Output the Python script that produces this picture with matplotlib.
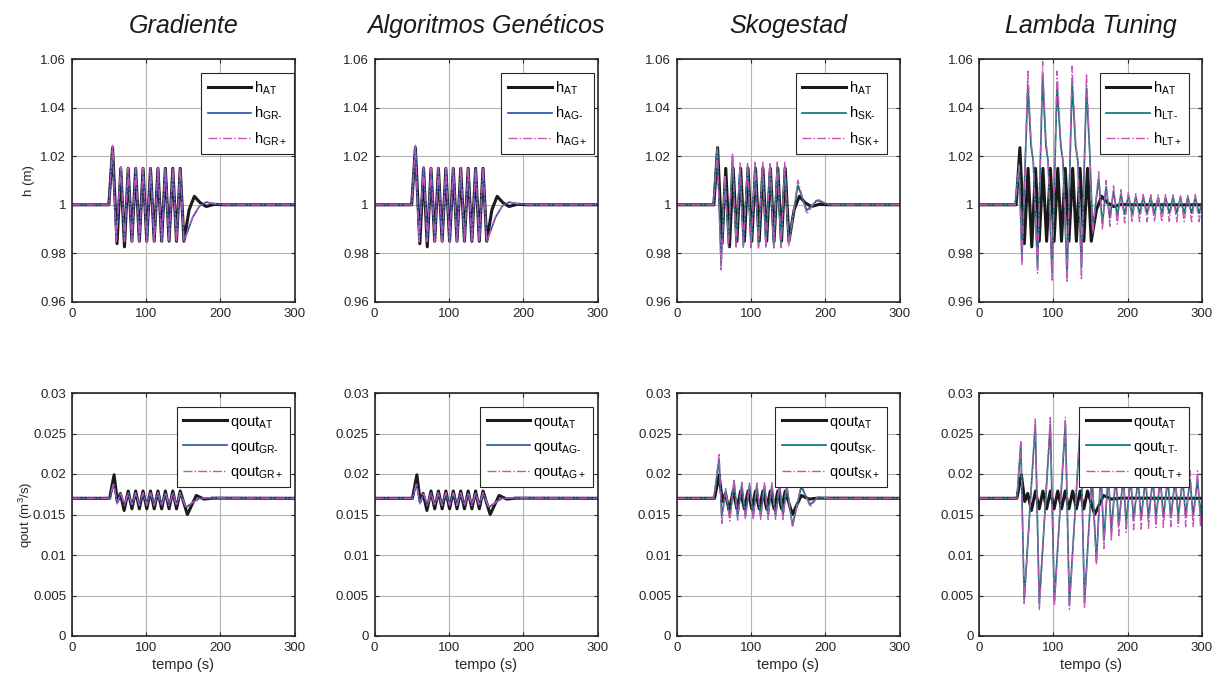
import matplotlib
matplotlib.use("Agg")
import matplotlib.pyplot as plt
from matplotlib import ticker

plt.rcParams['font.family'] = ['Liberation Sans', 'DejaVu Sans']
plt.rcParams['mathtext.fontset'] = 'custom'
plt.rcParams['mathtext.rm'] = 'Liberation Sans'
plt.rcParams['mathtext.it'] = 'Liberation Sans:italic'
plt.rcParams['mathtext.default'] = 'regular'

# ---------------- datos ----------------
titles = ["Gradiente", "Algoritmos Genéticos", "Skogestad", "Lambda Tuning"]
tags = ["GR", "AG", "SK", "LT"]

# nivel h, caso AT (igual en los cuatro paneles)
at_h_t = [0, 50, 55, 61, 66, 71, 76, 81, 86, 91, 96, 101, 106, 111, 116, 121,
          126, 131, 136, 141, 146, 151, 158, 165, 173, 181, 192, 205, 300]
at_h = [1.0, 1.0, 1.0235, 0.984, 1.015, 0.9827, 1.015, 0.985, 1.015, 0.985,
        1.015, 0.985, 1.015, 0.985, 1.015, 0.985, 1.015, 0.985, 1.015, 0.985,
        1.015, 0.985, 0.998, 1.0035, 1.0008, 0.9993, 1.0002, 1.0, 1.0]

# nivel h, Gradiente
gr_h_t = [0, 50, 55, 60, 66, 71, 76, 81, 86, 91, 96, 101, 106, 111, 116, 121,
          126, 131, 136, 141, 146, 151, 163, 172, 181, 195, 210, 300]
gr_h_minus = [1.0, 1.0, 1.024, 0.985, 1.0155, 0.985, 1.015, 0.985, 1.015, 0.985,
              1.015, 0.985, 1.015, 0.985, 1.015, 0.985, 1.015, 0.985, 1.015, 0.985,
              1.015, 0.985, 0.995, 0.9995, 1.0011, 1.0003, 1.0, 1.0]
gr_h_plus = [1.0, 1.0, 1.0245, 0.9848, 1.0157, 0.9848, 1.0152, 0.9848, 1.0152, 0.9848,
             1.0152, 0.9848, 1.0152, 0.9848, 1.0152, 0.9848, 1.0152, 0.9848, 1.0152, 0.9848,
             1.0152, 0.9848, 0.9952, 0.9996, 1.001, 1.0003, 1.0, 1.0]

# Algoritmos Geneticos: curvas practicamente identicas a las del Gradiente
ag_h_t = gr_h_t
ag_h_minus = gr_h_minus
ag_h_plus = gr_h_plus

# nivel h, Skogestad
sk_h_t = [0, 49.5, 54.7, 59.7, 65, 69.6, 75, 80, 85.3, 89.6, 95.4, 100, 105.6, 110,
          115.7, 120, 125.6, 130.6, 135.4, 140.4, 145.3, 150.7, 163, 175, 188.7, 205, 300]
sk_h_minus = [1.0, 1.0, 1.0237, 0.9759, 1.0114, 0.984, 1.020, 0.984, 1.0155, 0.983,
              1.016, 0.983, 1.016, 0.983, 1.016, 0.983, 1.016, 0.983, 1.016, 0.983,
              1.016, 0.984, 1.008, 0.9977, 1.0018, 1.0, 1.0]
sk_h_plus = [1.0, 1.0, 1.0228, 0.9732, 1.0122, 0.9828, 1.0208, 0.9826, 1.0172, 0.9822,
             1.0176, 0.9823, 1.0175, 0.9822, 1.0176, 0.9823, 1.0175, 0.9822, 1.0176, 0.9823,
             1.0175, 0.9828, 1.0102, 0.9962, 1.0024, 1.0, 1.0]

# nivel h, Lambda Tuning
lt_h_t = [0, 48.6, 54, 57.7, 65.8, 70, 73, 78.8, 85.6, 90, 93, 98.2, 105, 110, 113,
          118.5, 125.2, 130, 133, 137.8, 144.6, 149, 153,
          161, 166, 171, 176, 181, 186, 191, 196, 201, 206, 211, 216, 221, 226,
          231, 236, 241, 246, 251, 256, 261, 266, 271, 276, 281, 286, 291, 296, 300]
lt_h_minus = [1.0, 1.0, 1.0168, 0.978, 1.049, 1.024, 1.018, 0.974, 1.053, 1.024, 1.018,
              0.972, 1.049, 1.024, 1.018, 0.971, 1.050, 1.024, 1.018, 0.974, 1.048, 1.021, 0.990,
              1.0107, 0.9921, 1.0075, 0.9945, 1.0055, 0.9955, 1.0045, 0.996, 1.004, 0.9962,
              1.0035, 0.9963, 1.0033, 0.9964, 1.0032, 0.9964, 1.0031, 0.9965, 1.0031, 0.9964,
              1.0032, 0.9965, 1.0031, 0.9964, 1.0032, 0.9965, 1.0031, 0.9964, 1.001]
lt_h_plus = [1.0, 1.0, 1.016, 0.975, 1.055, 1.026, 1.018, 0.9718, 1.059, 1.027, 1.018,
             0.969, 1.055, 1.026, 1.018, 0.968, 1.057, 1.026, 1.018, 0.969, 1.054, 1.022, 0.988,
             1.0136, 0.990, 1.010, 0.9912, 1.0078, 0.992, 1.0062, 0.9925, 1.0052, 0.9928,
             1.0046, 0.993, 1.0043, 0.993, 1.0042, 0.9931, 1.0041, 0.993, 1.0042, 0.9931,
             1.0041, 0.993, 1.0042, 0.9931, 1.0041, 0.993, 1.0042, 0.9931, 1.001]

# caudal qout, caso AT
at_q_t = [0, 51, 57, 61.5, 65.5, 70.5, 76, 81, 86, 91, 96, 101, 106, 111, 116, 121,
          126, 131, 136, 141, 146, 155.6, 167.6, 178, 190, 300]
at_q = [0.017, 0.017, 0.0199, 0.0166, 0.0176, 0.0155, 0.0179, 0.0157, 0.0179, 0.0157,
        0.0179, 0.0157, 0.0179, 0.0157, 0.0179, 0.0157, 0.0179, 0.0157, 0.0179, 0.0157,
        0.0179, 0.0150, 0.01735, 0.0169, 0.01702, 0.017]

# caudal qout, Gradiente
gr_q_t = [0, 51, 56.5, 61, 66, 71, 76, 81, 86, 91, 96, 101, 106, 111, 116, 121, 126,
          131, 136, 141, 146, 154, 163, 172, 185, 300]
gr_q_minus = [0.017, 0.017, 0.0187, 0.0164, 0.0176, 0.0162, 0.0176, 0.0162, 0.0176, 0.0162,
              0.0176, 0.0162, 0.0176, 0.0162, 0.0176, 0.0162, 0.0176, 0.0162, 0.0176, 0.0162,
              0.0176, 0.0159, 0.0165, 0.0170, 0.01705, 0.017]
gr_q_plus = [0.017, 0.017, 0.0189, 0.0163, 0.0177, 0.0161, 0.0177, 0.0161, 0.0177, 0.0161,
             0.0177, 0.0161, 0.0177, 0.0161, 0.0177, 0.0161, 0.0177, 0.0161, 0.0177, 0.0161,
             0.0177, 0.0158, 0.0165, 0.0170, 0.01705, 0.017]

ag_q_t = gr_q_t
ag_q_minus = gr_q_minus
ag_q_plus = gr_q_plus

# caudal qout, Skogestad
sk_q_t = [0, 50, 57, 60.6, 66, 71.5, 77.2, 82, 87.6, 92.5, 97.9, 103, 107.8, 113, 118,
          123, 128, 133, 138.3, 143, 148, 155.8, 167.5, 179.6, 190, 205, 300]
sk_q_minus = [0.017, 0.017, 0.0218, 0.0148, 0.0180, 0.0146, 0.0190, 0.0147, 0.0187, 0.0148,
              0.0186, 0.0148, 0.0186, 0.0148, 0.0186, 0.0148, 0.0186, 0.0148, 0.0186, 0.0148,
              0.0185, 0.01365, 0.0184, 0.01623, 0.0171, 0.017, 0.017]
sk_q_plus = [0.017, 0.017, 0.0224, 0.0139, 0.0182, 0.0142, 0.0194, 0.0143, 0.0190, 0.0144,
             0.0189, 0.0144, 0.0189, 0.0144, 0.0189, 0.0144, 0.0189, 0.0144, 0.0189, 0.0144,
             0.0188, 0.0134, 0.0188, 0.0159, 0.0172, 0.017, 0.017]

# caudal qout, Lambda Tuning
lt_q_t = [0, 51, 56.3, 60.8, 75.7, 81.1, 95.9, 101.4, 116.2, 121.6, 136.5, 141.9, 152,
          158, 164, 168, 174, 178, 184, 188, 194, 198, 204, 208, 214, 218, 224, 228, 234,
          238, 244, 248, 254, 258, 264, 268, 274, 278, 284, 288, 294, 298, 300]
lt_q_minus = [0.017, 0.017, 0.0238, 0.0045, 0.0261, 0.0040, 0.0261, 0.0043, 0.0261, 0.0039,
              0.0261, 0.0041, 0.0198,
              0.0092, 0.0203, 0.0118, 0.0199, 0.0130, 0.0197, 0.0137, 0.0196, 0.0141, 0.0195,
              0.0144, 0.0194, 0.0145, 0.0194, 0.0146, 0.0193, 0.0147, 0.0193, 0.0147, 0.0193,
              0.0147, 0.0193, 0.0148, 0.0193, 0.0148, 0.0193, 0.0148, 0.0193, 0.0148, 0.0170]
lt_q_plus = [0.017, 0.017, 0.0240, 0.0040, 0.0268, 0.0032, 0.0270, 0.0037, 0.0270, 0.0033,
             0.0268, 0.0034, 0.0206,
             0.0088, 0.0212, 0.0108, 0.0208, 0.0117, 0.0206, 0.0124, 0.0205, 0.0128, 0.0205,
             0.0131, 0.0204, 0.0132, 0.0204, 0.0133, 0.0204, 0.0134, 0.0204, 0.0134, 0.0204,
             0.0135, 0.0204, 0.0135, 0.0204, 0.0135, 0.0204, 0.0135, 0.0204, 0.0135, 0.0170]

h_series = [(gr_h_t, gr_h_minus, gr_h_plus), (ag_h_t, ag_h_minus, ag_h_plus),
            (sk_h_t, sk_h_minus, sk_h_plus), (lt_h_t, lt_h_minus, lt_h_plus)]
q_series = [(gr_q_t, gr_q_minus, gr_q_plus), (ag_q_t, ag_q_minus, ag_q_plus),
            (sk_q_t, sk_q_minus, sk_q_plus), (lt_q_t, lt_q_minus, lt_q_plus)]

# ---------------- estilo ----------------
c_at = '#1a1a1a'
c_minus = ['#2050a0', '#2050a0', '#00766f', '#00766f']
c_plus = '#c255b6'
gray = '#262626'
hy = '\u2010'  # guion normal en los subindices

W, H = 1224, 684
lefts = [71.7, 374.5, 676.7, 979.0]
width = 223
tops = [59, 393]
height = 243
leg_gap = [[1, 4, 13, 13], [5, 5, 13, 13]]

fig = plt.figure(figsize=(W / 100, H / 100), dpi=100)


def style_axes(ax):
    ax.set_xlim(0, 300)
    ax.set_xticks([0, 100, 200, 300])
    ax.yaxis.set_major_formatter(ticker.FormatStrFormatter('%g'))
    ax.grid(True, color='#b4b4b4', linewidth=0.8)
    ax.set_axisbelow(True)
    ax.tick_params(direction='in', top=True, right=True, length=3, width=0.8,
                   labelsize=9.5, colors=gray, pad=4)
    for sp in ax.spines.values():
        sp.set_color(gray)
        sp.set_linewidth(1.2)


def add_legend(ax, gap_px):
    anchor_x = 1 - gap_px / width
    leg = ax.legend(loc='upper right', bbox_to_anchor=(anchor_x, 1 - 14 / height),
                    borderaxespad=0, fontsize=10.5, handlelength=3.0, handletextpad=0.2,
                    labelspacing=0.55, borderpad=0.45, fancybox=False, framealpha=1,
                    edgecolor=gray)
    leg.get_frame().set_linewidth(0.8)


for i in range(4):
    # fila superior: nivel
    ax = fig.add_axes([lefts[i] / W, 1 - (tops[0] + height) / H, width / W, height / H])
    t, ym, yp = h_series[i]
    ax.plot(at_h_t, at_h, color=c_at, lw=2.2, label='h$_{AT}$')
    ax.plot(t, ym, color=c_minus[i], lw=1.2, label='h$_{%s%s}$' % (tags[i], hy))
    ax.plot(t, yp, color=c_plus, lw=1.0, ls='-.', label='h$_{%s+}$' % tags[i])
    style_axes(ax)
    ax.set_ylim(0.96, 1.06)
    ax.set_yticks([0.96, 0.98, 1.0, 1.02, 1.04, 1.06])
    ax.set_title(titles[i], fontsize=18, style='italic', pad=18.5, color='#1a1a1a')
    add_legend(ax, leg_gap[0][i])
    if i == 0:
        ax.set_ylabel('h (m)', fontsize=9.5, color=gray)
        ax.yaxis.set_label_coords(-0.165, 0.5)

    # fila inferior: caudal
    ax = fig.add_axes([lefts[i] / W, 1 - (tops[1] + height) / H, width / W, height / H])
    t, ym, yp = q_series[i]
    ax.plot(at_q_t, at_q, color=c_at, lw=2.2, label='qout$_{AT}$')
    ax.plot(t, ym, color=c_minus[i], lw=1.2, label='qout$_{%s%s}$' % (tags[i], hy))
    ax.plot(t, yp, color=c_plus, lw=1.0, ls='-.', label='qout$_{%s+}$' % tags[i])
    style_axes(ax)
    ax.set_ylim(0, 0.03)
    ax.set_yticks([0, 0.005, 0.01, 0.015, 0.02, 0.025, 0.03])
    ax.set_xlabel('tempo (s)', fontsize=10.5, color=gray, labelpad=3)
    add_legend(ax, leg_gap[1][i])
    if i == 0:
        ax.set_ylabel('qout (m$^3$/s)', fontsize=9.5, color=gray)
        ax.yaxis.set_label_coords(-0.165, 0.5)

fig.savefig('out.png', dpi=100)
